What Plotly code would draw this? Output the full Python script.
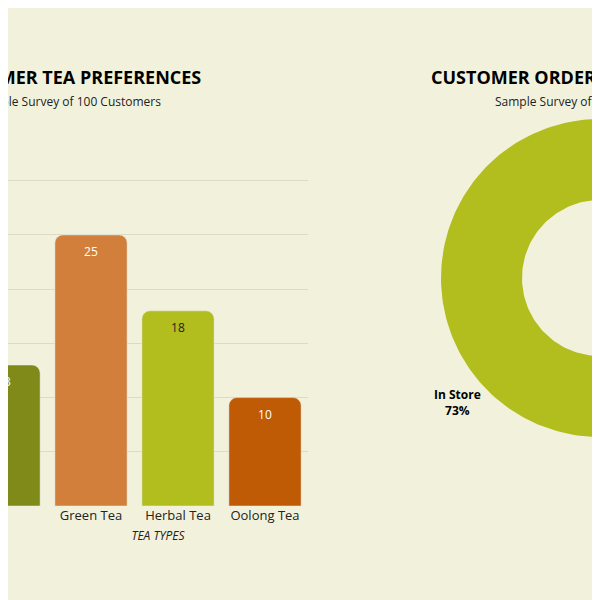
import numpy as np
import plotly.graph_objects as go

tea_types = ['Black Tea', 'Chai', 'Green Tea', 'Herbal Tea', 'Oolong Tea']
tea_counts = [21, 13, 25, 18, 10]
tea_colors = ['#a5521a', '#7f8a18', '#d17f3a', '#b2bd1e', '#bf5a05']
label_colors = ['white', 'white', 'white', '#222222', 'white']

order_methods = ['In Store', 'Online']
order_shares = [73, 27]
order_colors = ['#b2bd1e', '#d17f3a']

BG = '#f2f2dc'
OFF = 8  # page body margin the figure sits behind

def px(v):
	return (v - OFF) / 600

def py(v):
	return 1 - (v - OFF) / 600

fig = go.Figure()

fig.add_trace(go.Bar(
	x=tea_types, y=tea_counts,
	marker=dict(color=tea_colors, cornerradius=8),
	width=0.83,
	text=tea_counts, textposition='inside', insidetextanchor='end',
	textfont=dict(color=label_colors, size=12, family='Open Sans'),
	hoverinfo='skip'
))

# donut drawn on an overlay axis measured in pixels
cx, cy, r_out, r_in = 600 - OFF, 278 - OFF, 159, 78
start = 90.0
for name, share, col in zip(order_methods, order_shares, order_colors):
	end = start + share / sum(order_shares) * 360
	t = np.radians(np.linspace(start, end, 160))
	xs = np.concatenate([cx + r_out * np.cos(t), cx + r_in * np.cos(t[::-1])])
	ys = np.concatenate([cy - r_out * np.sin(t), cy - r_in * np.sin(t[::-1])])
	fig.add_trace(go.Scatter(
		x=xs, y=ys, xaxis='x2', yaxis='y2', fill='toself', fillcolor=col,
		mode='lines', line=dict(width=0), hoverinfo='skip'
	))
	start = end

# bar axis: 87 px per category, Chai centred at x=4px
x_left = 1 - (4 - OFF) / 87
x_right = x_left + 600 * 0.5 / 87

fig.update_layout(
	width=600, height=600, autosize=False,
	margin=dict(l=0, r=0, t=0, b=0),
	paper_bgcolor=BG, plot_bgcolor='rgba(0,0,0,0)',
	showlegend=False,
	font=dict(family='Open Sans', color='#222222'),
	xaxis=dict(domain=[0, 0.5], range=[x_left, x_right], showgrid=False, zeroline=False,
		tickfont=dict(size=13), ticks='',
		title=dict(text='<i>TEA TYPES</i>', font=dict(size=12), standoff=8)),
	yaxis=dict(domain=[py(506), py(126)], range=[0, 35.05], dtick=5,
		showticklabels=False, gridcolor='#dcdcc4', zeroline=False),
	xaxis2=dict(domain=[0, 1], range=[0, 600], visible=False, fixedrange=True),
	yaxis2=dict(domain=[0, 1], range=[600, 0], visible=False, fixedrange=True),
	annotations=[
		dict(text='<b>CUSTOMER TEA PREFERENCES</b>', x=px(203), y=py(77),
			xref='paper', yref='paper', xanchor='right', yanchor='middle',
			showarrow=False, font=dict(size=18, color='black')),
		dict(text='Sample Survey of 100 Customers', x=px(163), y=py(101),
			xref='paper', yref='paper', xanchor='right', yanchor='middle',
			showarrow=False, font=dict(size=12)),
		dict(text='<b>CUSTOMER ORDER METHODS</b>', x=px(429), y=py(77),
			xref='paper', yref='paper', xanchor='left', yanchor='middle',
			showarrow=False, font=dict(size=18, color='black')),
		dict(text='Sample Survey of 100 Customers', x=px(493), y=py(101),
			xref='paper', yref='paper', xanchor='left', yanchor='middle',
			showarrow=False, font=dict(size=12)),
		dict(text=f'<b>{order_methods[0]}<br>{order_shares[0]}%</b>', x=px(457), y=py(402),
			xref='paper', yref='paper', xanchor='center', yanchor='middle',
			showarrow=False, font=dict(size=12, color='black')),
	]
)

fig.write_html('out.html')
